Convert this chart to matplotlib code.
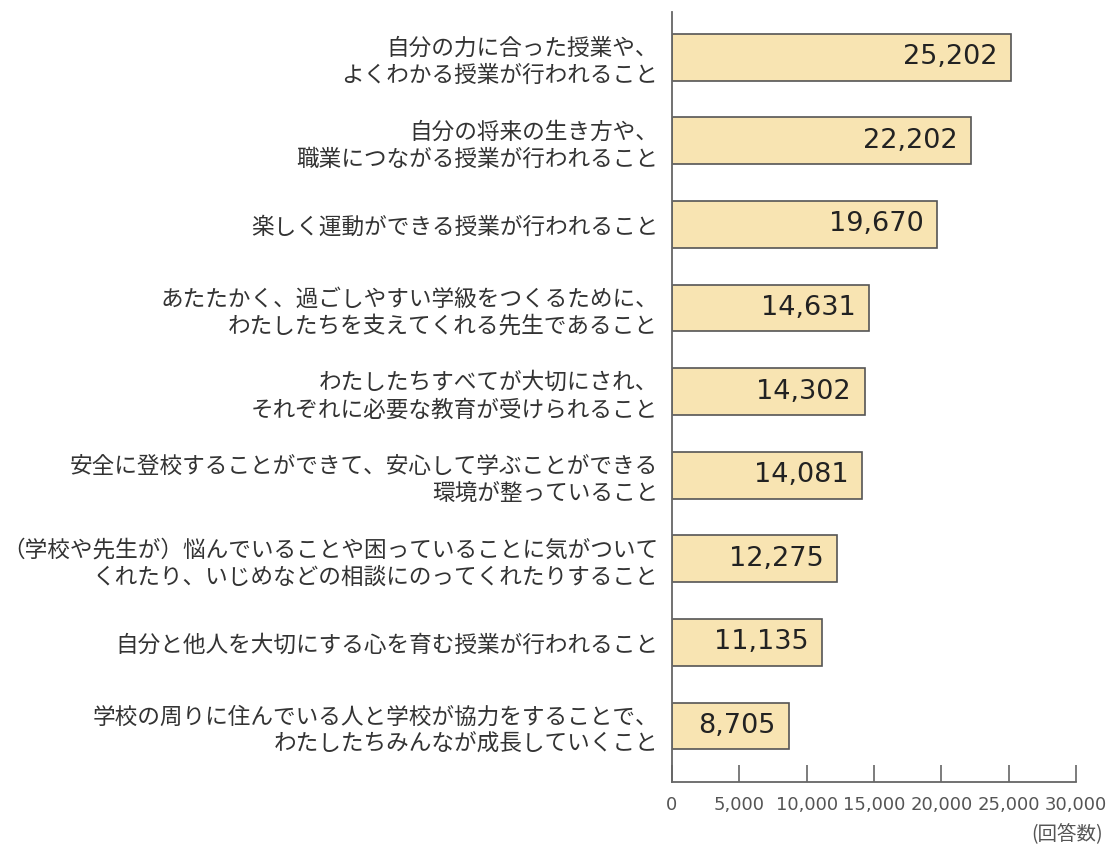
import matplotlib.pyplot as plt

plt.rcParams['font.family'] = ['Noto Sans CJK JP', 'DejaVu Sans']

# 回答項目と回答数
labels = [
    "自分の力に合った授業や、\nよくわかる授業が行われること",
    "自分の将来の生き方や、\n職業につながる授業が行われること",
    "楽しく運動ができる授業が行われること",
    "あたたかく、過ごしやすい学級をつくるために、\nわたしたちを支えてくれる先生であること",
    "わたしたちすべてが大切にされ、\nそれぞれに必要な教育が受けられること",
    "安全に登校することができて、安心して学ぶことができる\n環境が整っていること",
    "（学校や先生が）悩んでいることや困っていることに気がついて\nくれたり、いじめなどの相談にのってくれたりすること",
    "自分と他人を大切にする心を育む授業が行われること",
    "学校の周りに住んでいる人と学校が協力をすることで、\nわたしたちみんなが成長していくこと",
]
counts = [25202, 22202, 19670, 14631, 14302, 14081, 12275, 11135, 8705]
xticks = [0, 5000, 10000, 15000, 20000, 25000, 30000]

fig = plt.figure(figsize=(11.07, 8.48), dpi=100)
ax = fig.add_axes([0.607, 0.0778, 0.365, 0.908])

ypos = list(range(len(counts)))
ax.barh(ypos, counts, height=0.56, color="#F8E4B2", edgecolor="#555555", linewidth=1.2)

# 棒の右端内側に回答数
for y, v in zip(ypos, counts):
    ax.text(v - 1000, y, f"{v:,}", ha="right", va="center", fontsize=19.5,
            color="#222222", family=['DejaVu Sans'])

ax.set_ylim(len(counts) - 1 + 0.67, -0.54)
ax.set_xlim(0, 30000)

ax.set_yticks(ypos)
ax.set_yticklabels(labels, fontsize=16.3, color="#333333", linespacing=1.25)
ax.tick_params(axis="y", length=0, pad=10)

ax.set_xticks(xticks)
ax.set_xticklabels([f"{t:,}" for t in xticks], fontsize=13, color="#555555",
                   family=['Liberation Sans Narrow', 'DejaVu Sans'])
ax.tick_params(axis="x", direction="in", length=12, width=1.2, color="#666666", pad=10)

for side in ["top", "right"]:
    ax.spines[side].set_visible(False)
for side in ["left", "bottom"]:
    ax.spines[side].set_color("#666666")
    ax.spines[side].set_linewidth(1.3)

fig.text(0.996, 0.016, "(回答数)", ha="right", va="center", fontsize=14, color="#555555")

fig.savefig("out.png", dpi=100)
